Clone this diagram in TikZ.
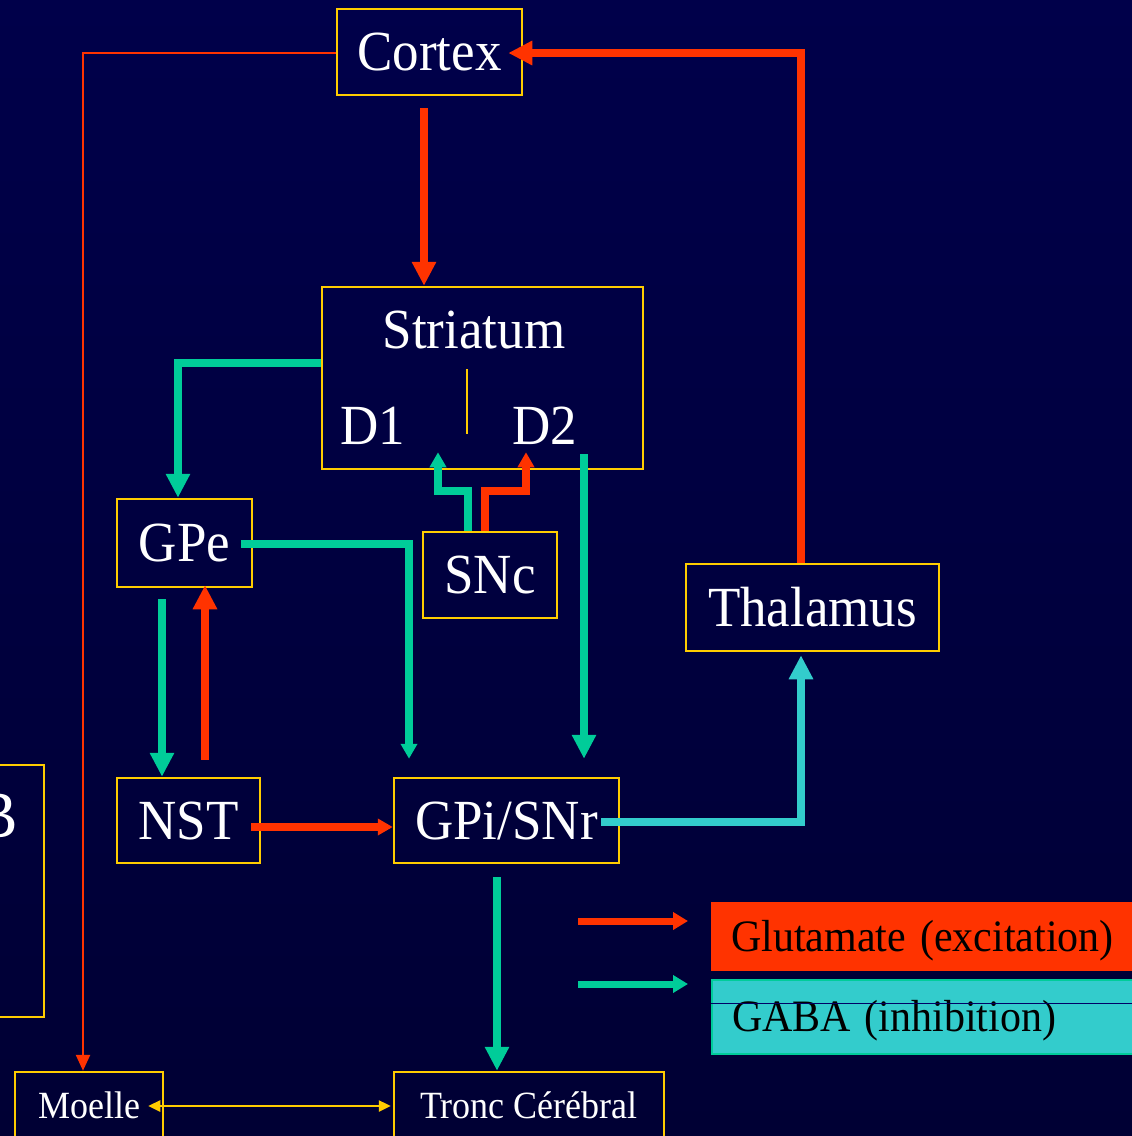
\documentclass[tikz,border=0pt]{standalone}
\usepackage{fontspec}
\setmainfont{Liberation Serif}
\usetikzlibrary{arrows.meta}
\definecolor{ylw}{HTML}{FFCC00}
\definecolor{redc}{HTML}{FF3300}
\definecolor{greenc}{HTML}{00CC99}
\definecolor{cyanc}{HTML}{33CCCC}
\definecolor{bgtop}{RGB}{0,0,74}
\definecolor{bgmid}{RGB}{0,0,102}
\definecolor{bgbot}{RGB}{0,0,52}
\newcommand{\vs}[1]{\scalebox{1}[1.07]{#1}}
\begin{document}
\begin{tikzpicture}[x=1pt,y=-1pt,
  box/.style={draw=ylw, line width=2.5pt, inner sep=2pt, text=white},
  bigtxt/.style={font=\fontsize{53pt}{60pt}\selectfont, text height=37pt, text depth=0pt},
  smalltxt/.style={font=\fontsize{36pt}{42pt}\selectfont, text height=25pt, text depth=0pt},
  conn/.style={line width=7.5pt},
  bigtip/.style={-{Triangle[width=23pt,length=24pt]}},
  smalltip/.style={-{Triangle[width=16pt,length=15pt]}},
  thinconn/.style={line width=2.5pt},
  legtxt/.style={font=\fontsize{42pt}{48pt}\selectfont, text=black, text width=400pt, align=left, inner xsep=20pt, inner ysep=0pt, text depth=0pt}
]
\useasboundingbox (0,0) rectangle (1132,1136);
\clip (0,0) rectangle (1132,1136);
\shade[top color=bgtop, middle color=bgmid, bottom color=bgbot] (0,0) rectangle (1132,1136);

% boxes
\node[box, bigtxt, minimum width=185pt, minimum height=86pt] (cortex) at (429.5,52) {\vs{Cortex}};
\node[box, minimum width=321pt, minimum height=182pt] (striatum) at (482.5,378) {};
\node[text=white, font=\fontsize{53pt}{60pt}\selectfont, anchor=base, inner sep=0pt] (strtxt) at (474,348) {\vs{Striatum}};
\node[text=white, font=\fontsize{53pt}{60pt}\selectfont, anchor=base west, inner sep=0pt] (d1) at (340,444) {\vs{D1}};
\node[text=white, font=\fontsize{53pt}{60pt}\selectfont, anchor=base west, inner sep=0pt] (d2) at (512,444) {\vs{D2}};
\draw[ylw, line width=2.5pt] (467,369) -- (467,434);
\node[box, bigtxt, minimum width=135pt, minimum height=88pt] (gpe) at (184.5,543) {\vs{GPe}};
\node[box, bigtxt, minimum width=134pt, minimum height=86pt] (snc) at (490,575) {\vs{SNc}};
\node[box, bigtxt, minimum width=253pt, minimum height=87pt] (thal) at (812.5,607.5) {\vs{Thalamus}};
\node[box, bigtxt, minimum width=143pt, minimum height=85pt] (nst) at (188.5,820.5) {\vs{NST}};
\node[box, bigtxt, minimum width=225pt, minimum height=85pt] (gpi) at (506.5,820.5) {\vs{GPi/SNr}};
\node[box, smalltxt, minimum width=148pt, minimum height=68pt] (moelle) at (89,1106) {\vs{Moelle}};
\node[box, smalltxt, minimum width=270pt, minimum height=68pt] (tronc) at (529,1106) {\vs{Tronc Cérébral}};
\node[box, minimum width=144pt, minimum height=252pt] (leftbox) at (-28,891) {};
\node[text=white, font=\fontsize{62pt}{70pt}\selectfont, anchor=base east, inner sep=0pt] (lefttxt) at (18,837) {\vs{B}};

% connectors
\draw[redc, conn, bigtip] ([xshift=-5.5pt,yshift=-12pt]cortex.south) -- ([xshift=-58.5pt]striatum.north);
\draw[redc, conn, bigtip] ([xshift=-11.5pt]thal.north) |- ([xshift=-15pt,yshift=-1pt]cortex.east);
\draw[redc, thinconn, -{Triangle[width=14pt,length=16pt]}] ([yshift=-1pt]cortex.west) -| ([xshift=-6pt]moelle.north);
\draw[greenc, conn, bigtip] ([yshift=15pt]striatum.west) -| ([xshift=-6.5pt]gpe.north);
\draw[greenc, conn, smalltip] ([xshift=-22pt]snc.north) -- ++(0,-40) -| ([xshift=-44.5pt,yshift=18pt]striatum.south);
\draw[redc, conn, smalltip] ([xshift=-5pt]snc.north) -- ++(0,-40) -| ([xshift=43.5pt,yshift=18pt]striatum.south);
\draw[greenc, conn, bigtip] ([xshift=101.5pt,yshift=16pt]striatum.south) -- ([xshift=77.5pt,yshift=18pt]gpi.north);
\draw[greenc, conn, smalltip] ([xshift=-12pt,yshift=-1pt]gpe.east) -| ([xshift=-97.5pt,yshift=18pt]gpi.north);
\draw[greenc, conn, bigtip] ([xshift=-22.5pt,yshift=-11pt]gpe.south) -- ([xshift=-26.5pt]nst.north);
\draw[redc, conn, bigtip] ([xshift=16.5pt,yshift=17pt]nst.north) -- ([xshift=20.5pt,yshift=3pt]gpe.south);
\draw[redc, conn, smalltip] ([xshift=-10pt,yshift=-6.5pt]nst.east) -- ([yshift=-6.5pt]gpi.west);
\draw[cyanc, conn, bigtip] ([xshift=-19pt,yshift=-1.5pt]gpi.east) -| ([xshift=-11.5pt,yshift=-3pt]thal.south);
\draw[greenc, conn, bigtip] ([xshift=-9.5pt,yshift=-13pt]gpi.south) -- ([xshift=-32pt]tronc.north);
\draw[ylw, thinconn, {Triangle[width=11pt,length=12pt]}-{Triangle[width=11pt,length=12pt]}] ([xshift=-16pt]moelle.east) -- ([xshift=-2pt]tronc.west);

% legend
\node[legtxt, anchor=north west, fill=redc, minimum height=69pt, text height=30pt] (glu) at (711,902) {\vs{Glutamate (excitation)}};
\node[legtxt, anchor=north west, fill=cyanc, draw=greenc, line width=2pt, minimum height=74pt, text height=28pt] (gaba) at (711,979) {\vs{GABA (inhibition)}};
\draw[bgmid, line width=1pt] ([yshift=-24pt]gaba.north west) -- ([yshift=-24pt]gaba.north east);
\coordinate (lr1) at (578,921);
\coordinate (lr2) at (688,921);
\coordinate (lg1) at (578,984);
\coordinate (lg2) at (688,984);
\draw[redc, line width=7pt, -{Triangle[width=17pt,length=15pt]}] (lr1) -- (lr2);
\draw[greenc, line width=7pt, -{Triangle[width=17pt,length=15pt]}] (lg1) -- (lg2);
\end{tikzpicture}
\end{document}
